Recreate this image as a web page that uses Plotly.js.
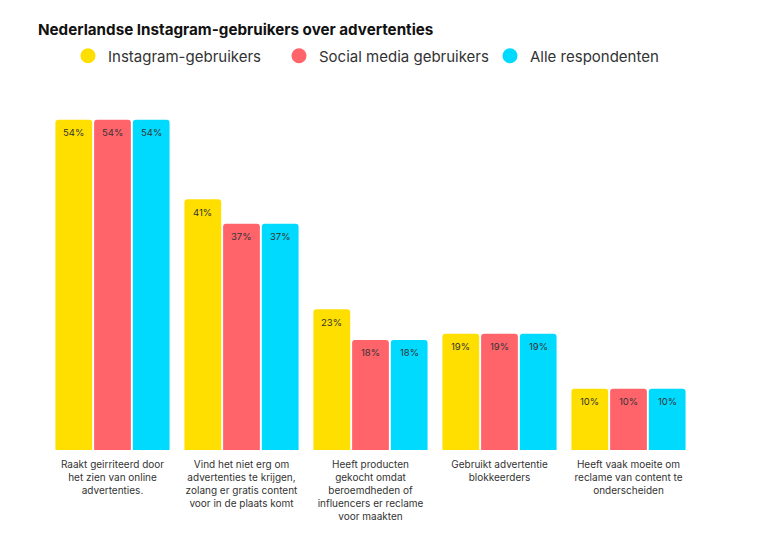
<!DOCTYPE html>
<html>
<head>
<meta charset="utf-8">
<script src="https://cdn.plot.ly/plotly-3.0.1.min.js"></script>
<style>
  html, body { margin: 0; padding: 0; background: #fff; }
  #chart { width: 768px; height: 543px; }
</style>
</head>
<body>
<div id="chart"></div>
<script>
'use strict';

// categories (x-axis labels, with line breaks as in the picture)
const categories = [
    'Raakt geirriteerd door<br>het zien van online<br>advertenties.',
    'Vind het niet erg om<br>advertenties te krijgen,<br>zolang er gratis content<br>voor in de plaats komt',
    'Heeft producten<br>gekocht omdat<br>beroemdheden of<br>influencers er reclame<br>voor maakten',
    'Gebruikt advertentie<br>blokkeerders',
    'Heeft vaak moeite om<br>reclame van content te<br>onderscheiden'
];

const seriesNames = ['Instagram-gebruikers', 'Social media gebruikers', 'Alle respondenten'];
const instagram = [54, 41, 23, 19, 10];
const socialMedia = [54, 37, 18, 19, 10];
const allRespondents = [54, 37, 18, 19, 10];

const colors = ['#FFDF00', '#FF646B', '#00DAFF'];
const fontFamily = 'Inter, "Open Sans", sans-serif';

const BARGAP = 0.1;
const PLOT_W = 768 - 48 - 75;

function barTrace(name, values, color) {
    return {
        type: 'bar',
        name: name,
        x: categories,
        y: values,
        marker: { color: color },
        hoverinfo: 'skip',
        showlegend: false
    };
}

// dummy traces only for the round legend markers
function legendTrace(name, color) {
    return {
        type: 'scatter',
        mode: 'markers',
        name: name,
        x: [null],
        y: [null],
        marker: { color: color, size: 15, symbol: 'circle' },
        showlegend: true
    };
}

const allSeries = [instagram, socialMedia, allRespondents];

const data = [
    barTrace(seriesNames[0], instagram, colors[0]),
    barTrace(seriesNames[1], socialMedia, colors[1]),
    barTrace(seriesNames[2], allRespondents, colors[2]),
    legendTrace(seriesNames[0], colors[0]),
    legendTrace(seriesNames[1], colors[1]),
    legendTrace(seriesNames[2], colors[2])
];

// value labels a little below each bar top
const slot = (PLOT_W / categories.length) * (1 - BARGAP) / 3;
const annotations = [];
allSeries.forEach((values, s) => {
    values.forEach((v, i) => {
        annotations.push({
            x: categories[i],
            y: v,
            xref: 'x', yref: 'y',
            text: v + '%',
            showarrow: false,
            xshift: (s - 1) * slot,
            yshift: -13,
            yanchor: 'middle',
            font: { family: fontFamily, size: 9.5, color: '#333' }
        });
    });
});

const layout = {
    width: 768,
    height: 543,
    margin: { l: 48, r: 75, t: 83, b: 93 },
    paper_bgcolor: '#fff',
    plot_bgcolor: '#fff',
    font: { family: fontFamily, color: '#222' },
    title: {
        text: '<b>Nederlandse Instagram-gebruikers over advertenties</b>',
        font: { family: fontFamily, size: 15.2, color: '#111' },
        xref: 'container', yref: 'container',
        x: 38 / 768, xanchor: 'left',
        y: 1 - 30 / 543, yanchor: 'middle'
    },
    legend: {
        orientation: 'h',
        xref: 'container', yref: 'container',
        x: 68 / 768, xanchor: 'left',
        y: 1 - 56 / 543, yanchor: 'middle',
        entrywidth: 166,
        font: { family: fontFamily, size: 15, color: '#333' },
        itemclick: false
    },
    annotations: annotations,
    barmode: 'group',
    bargap: BARGAP,
    bargroupgap: 0.05,
    barcornerradius: 3,
    xaxis: {
        type: 'category',
        showline: false,
        showgrid: false,
        zeroline: false,
        ticks: '',
        ticklabelstandoff: 7,
        tickfont: { family: fontFamily, size: 10, color: '#333' },
        fixedrange: true
    },
    yaxis: {
        range: [0, 60],
        visible: false,
        fixedrange: true
    },
    showlegend: true
};

Plotly.newPlot('chart', data, layout, { displayModeBar: false, staticPlot: true });
</script>
</body>
</html>
